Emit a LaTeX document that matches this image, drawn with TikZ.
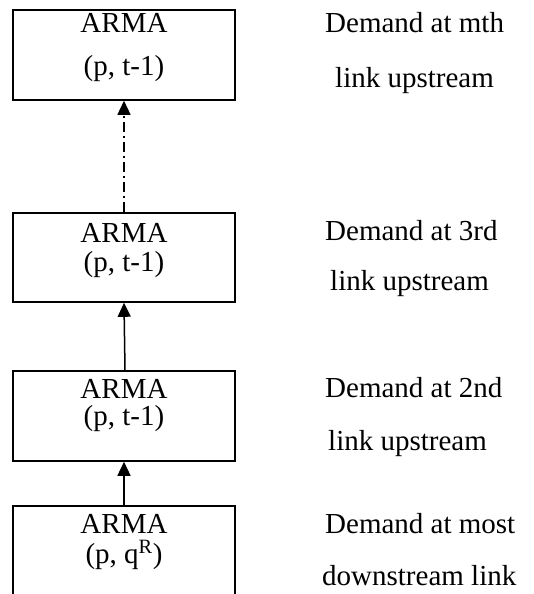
\documentclass[tikz,border=0pt]{standalone}
\usepackage{fontspec}
\setmainfont{Liberation Serif}
\usetikzlibrary{arrows.meta}
\begin{document}
\begin{tikzpicture}[x=1pt,y=-1pt,
  model/.style={draw,line width=1.6pt,minimum width=222pt,inner sep=0pt},
  txt/.style={inner sep=0pt,anchor=base,font=\fontsize{29}{35}\selectfont},
  note/.style={inner sep=0pt,anchor=base west,font=\fontsize{29}{35}\selectfont},
  link/.style={line width=1.5pt,-{Triangle[length=14pt,width=13pt]}},
  skip/.style={link,dash pattern=on 10pt off 4pt on 2pt off 4pt}]
\useasboundingbox (0,0) rectangle (534,594);
\clip (0,0) rectangle (534,594);
% model boxes, top to bottom
\node[model,minimum height=90pt]  (b1) at (124,55)  {};
\node[model,minimum height=89pt]  (b2) at (124,257.5) {};
\node[model,minimum height=90pt]  (b3) at (124,416) {};
\node[model,minimum height=114pt] (b4) at (124,563) {};
% box contents
\node[txt] (a1) at (124,33)  {ARMA};
\node[txt] (p1) at (124,75)  {(p, t-1)};
\node[txt] (a2) at (124,242) {ARMA};
\node[txt] (p2) at (124,271) {(p, t-1)};
\node[txt] (a3) at (124,398) {ARMA};
\node[txt] (p3) at (124,425) {(p, t-1)};
\node[txt] (a4) at (124,533) {ARMA};
\node[txt] (p4) at (124,563) {(p, q\textsuperscript{R})};
% side notes
\node[note] (n1a) at (325,33)  {Demand at mth};
\node[note] (n1b) at (335,87)  {link upstream};
\node[note] (n2a) at (325,240) {Demand at 3rd};
\node[note] (n2b) at (330,290) {link upstream};
\node[note] (n3a) at (325,397) {Demand at 2nd};
\node[note] (n3b) at (328,450) {link upstream};
\node[note] (n4a) at (325,533) {Demand at most};
\node[note] (n4b) at (322,585) {downstream link};
% connectors
\draw[link] (b4.north) -- (b3.south);
\draw[link] ([xshift=1pt]b3.north) -- (b2.south);
\draw[skip] (b2.north) -- (b1.south);
\end{tikzpicture}
\end{document}
